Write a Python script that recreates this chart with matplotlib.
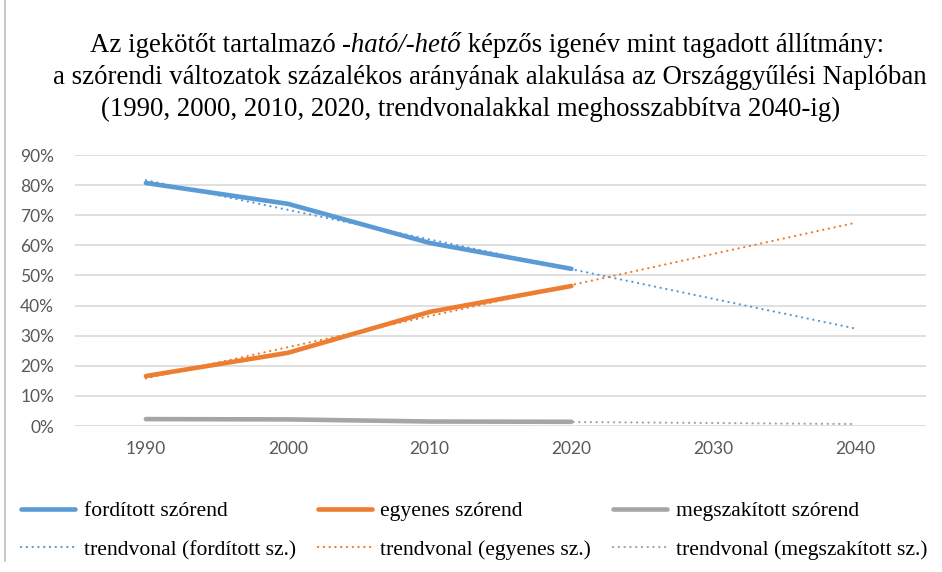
import matplotlib
matplotlib.use("Agg")
import matplotlib.pyplot as plt
import numpy as np
from matplotlib.lines import Line2D

# data (shares, 0..1)
years = [1990, 2000, 2010, 2020]
trend_years = [1990, 2000, 2010, 2020, 2030, 2040]
forditott = [0.807, 0.738, 0.608, 0.522]
egyenes = [0.166, 0.243, 0.379, 0.465]
megszakitott = [0.023, 0.022, 0.015, 0.014]
xtick_labels = ["1990", "2000", "2010", "2020", "2030", "2040"]
ytick_values = [0, 0.1, 0.2, 0.3, 0.4, 0.5, 0.6, 0.7, 0.8, 0.9]

series_names = ["fordított szórend", "egyenes szórend", "megszakított szórend"]
trend_names = ["trendvonal (fordított sz.)", "trendvonal (egyenes sz.)",
               "trendvonal (megszakított sz.)"]
colors = ["#5B9BD5", "#ED7D31", "#A5A5A5"]

serif = ["Liberation Serif", "DejaVu Serif"]
sans = ["Lato", "DejaVu Sans"]

fig = plt.figure(figsize=(9.42, 5.72), dpi=100)
ax = fig.add_axes([0.0796, 0.2552, 0.9034, 0.4738])

solid_handles = []
trend_handles = []
for vals, col, name, tname in zip([forditott, egyenes, megszakitott], colors,
                                  series_names, trend_names):
    # linear trendline as in Excel, extended two periods forward
    k, b = np.polyfit(years, vals, 1)
    tx = np.array(trend_years)
    h, = ax.plot(years, vals, color=col, lw=3.3, solid_capstyle="round",
                 solid_joinstyle="round", zorder=3, label=name)
    t, = ax.plot(tx, k * tx + b, color=col, lw=1.6, linestyle=(0, (0.1, 2.5)),
                 dash_capstyle="round", zorder=4, label=tname)
    solid_handles.append(h)
    trend_handles.append(t)

ax.set_xlim(1985, 2045)
ax.set_ylim(0, 0.9)
ax.set_xticks(trend_years)
ax.set_xticklabels(xtick_labels)
ax.set_yticks(ytick_values)
ax.set_yticklabels([f"{int(round(v * 100))}%" for v in ytick_values])
ax.grid(axis="y", color="#D9D9D9", lw=1.2, zorder=0)
ax.set_axisbelow(True)
for s in ax.spines.values():
    s.set_visible(False)
ax.tick_params(length=0, labelcolor="#595959", labelsize=12.5)
ax.tick_params(axis="y", pad=15)
ax.tick_params(axis="x", pad=11)
for lab in ax.get_xticklabels() + ax.get_yticklabels():
    lab.set_family(sans)

# title, first line has an italic part
fig.canvas.draw()
r = fig.canvas.get_renderer()
tsize = 19.3
parts = [("Az igekötőt tartalmazó ", "normal"), ("-ható/-hető", "italic"),
         (" képzős igenév mint tagadott állítmány:", "normal")]
texts = []
for s, st in parts:
    texts.append(fig.text(0, 1 - 46 / 572, s, family=serif, style=st,
                          fontsize=tsize, va="center", ha="left"))
widths = [t.get_window_extent(r).width for t in texts]
x0 = 487 - sum(widths) / 2
for t, w in zip(texts, widths):
    t.set_x(x0 / 942)
    x0 += w
fig.text(490 / 942, 1 - 78 / 572,
         "a szórendi változatok százalékos arányának alakulása az Országgyűlési Naplóban",
         family=serif, fontsize=tsize, va="center", ha="center")
fig.text(471 / 942, 1 - 109 / 572,
         "(1990, 2000, 2010, 2020, trendvonalakkal meghosszabbítva 2040-ig)",
         family=serif, fontsize=tsize, va="center", ha="center")

# legend: 3 columns, solid lines on top row, trendlines below
handles = solid_handles + trend_handles
order = [handles[0], handles[3], handles[1], handles[4], handles[2], handles[5]]
leg = fig.legend(handles=order, labels=[h.get_label() for h in order], ncol=3,
                 loc="lower left", bbox_to_anchor=(21 / 942, 12 / 572),
                 frameon=False, prop={"family": serif, "size": 15.6},
                 handlelength=2.5, handletextpad=0.4, columnspacing=1.0,
                 labelspacing=0.85, borderaxespad=0, borderpad=0)

# left border of the chart frame
fig.add_artist(Line2D([5 / 942, 5 / 942], [0.02, 1], color="#BFBFBF", lw=1.2))

fig.savefig("out.png", dpi=100)
